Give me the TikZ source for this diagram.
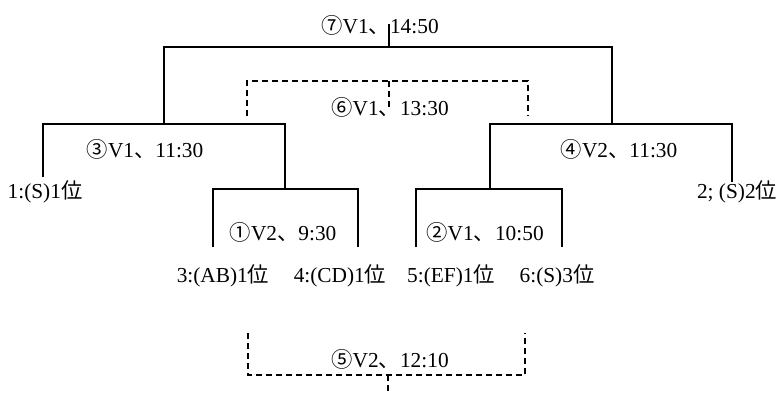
\documentclass[tikz,border=0pt]{standalone}
\usepackage{fontspec}
\setmainfont{Liberation Serif}
\newfontfamily\jp{Noto Sans CJK JP}
\begin{document}
\begin{tikzpicture}[x=0.75pt,y=-0.75pt,
  lbl/.style={inner sep=0pt, anchor=base, font=\fontsize{16}{19}\selectfont},
  br/.style={line width=1.3pt},
  dbr/.style={line width=1.3pt, dash pattern=on 4.5pt off 3pt}]
\useasboundingbox (0,0) rectangle (780,394);
% leaves
\node[lbl] (l1) at (45,198) {1:(S)1{\jp 位}};
\node[lbl] (l2) at (737,198) {2; (S)2{\jp 位}};
\node[lbl] (l3) at (223,282) {3:(AB)1{\jp 位}};
\node[lbl] (l4) at (340,282) {4:(CD)1{\jp 位}};
\node[lbl] (l5) at (451,282) {5:(EF)1{\jp 位}};
\node[lbl] (l6) at (557,282) {6:(S)3{\jp 位}};
% match labels
\node[lbl] (m1) at (283,240) {{\jp ①}V2{\jp 、}9:30};
\node[lbl] (m2) at (485,240) {{\jp ②}V1{\jp 、}10:50};
\node[lbl] (m3) at (145,157) {{\jp ③}V1{\jp 、}11:30};
\node[lbl] (m4) at (619,157) {{\jp ④}V2{\jp 、}11:30};
\node[lbl] (m5) at (390,367) {{\jp ⑤}V2{\jp 、}12:10};
\node[lbl] (m6) at (390,115) {{\jp ⑥}V1{\jp 、}13:30};
\node[lbl] (m7) at (380,33) {{\jp ⑦}V1{\jp 、}14:50};
% bracket coordinates
\coordinate (b1l) at (213,247); \coordinate (t1) at (285,189); \coordinate (b1r) at (358,247);
\coordinate (b2l) at (416,247); \coordinate (t2) at (490,189); \coordinate (b2r) at (562,247);
\coordinate (b3l) at (43,177);  \coordinate (t3) at (164,124);
\coordinate (t4) at (612,124);  \coordinate (b4r) at (732,182);
\coordinate (t7) at (389,47);   \coordinate (s7) at (389,24);
\coordinate (d6l) at (247,116); \coordinate (t6) at (389,81); \coordinate (d6r) at (528,116);
\coordinate (s6) at (389,110);
\coordinate (d5l) at (248,333); \coordinate (t5) at (388,375); \coordinate (d5r) at (525,333);
\coordinate (s5) at (388,394);
% brackets
\draw[br] (b1l) |- (t1) -| (b1r);
\draw[br] (b2l) |- (t2) -| (b2r);
\draw[br] (b3l) |- (t3) -| (t1);
\draw[br] (t2) |- (t4) -| (b4r);
\draw[br] (t3) |- (t7) -| (t4);
\draw[br] (t7) -- (s7);
\draw[dbr] (d6l) |- (t6) -| (d6r);
\draw[dbr] (t6) -- (s6);
\draw[dbr] (d5l) |- (t5) -| (d5r);
\draw[dbr] (t5) -- (s5);
\end{tikzpicture}
\end{document}
